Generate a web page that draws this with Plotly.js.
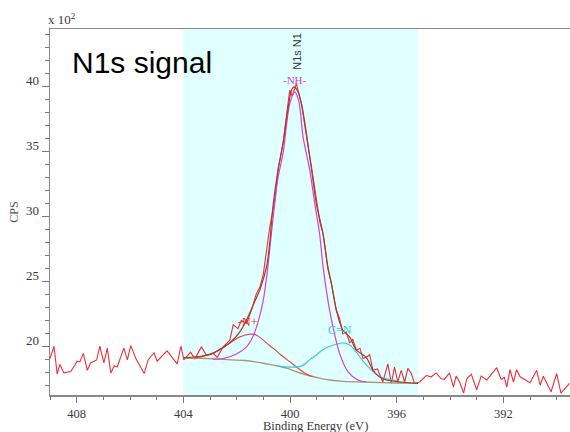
<!DOCTYPE html>
<html>
<head>
<meta charset="utf-8">
<script src="https://cdn.plot.ly/plotly-3.0.1.min.js"></script>
<style>html,body{margin:0;padding:0;background:#fff;}#chart{width:570px;height:432px;}</style>
</head>
<body>
<div id="chart"></div>
<script>
// Raw N1s spectrum (binding energy in eV, counts in units of 10^2 CPS)
const rawEnergy = [409.00,408.85,408.73,408.63,408.48,408.22,407.98,407.88,407.75,407.60,407.48,407.25,407.13,406.98,406.85,406.72,406.59,406.48,406.23,406.10,405.97,405.78,405.47,405.32,405.10,404.98,404.61,404.23,404.09,403.98,403.73,403.57,403.32,403.13,402.88,402.73,402.51,402.26,402.13,401.95,401.82,401.63,401.45,401.26,401.13,401.00,400.88,400.76,400.57,400.45,400.26,400.12,400.01,399.92,399.76,399.57,399.45,399.33,399.19,399.01,398.88,398.76,398.58,398.45,398.26,398.14,398.02,397.89,397.76,397.65,397.51,397.38,397.26,397.14,397.01,396.89,396.72,396.52,396.33,396.20,396.08,395.96,395.83,395.70,395.58,395.45,395.33,395.14,394.89,394.70,394.52,394.33,394.21,394.02,393.87,393.77,393.64,393.49,393.37,393.20,393.00,392.83,392.62,392.25,392.08,391.96,391.87,391.75,391.62,391.50,391.37,391.25,391.12,391.00,390.75,390.62,390.50,390.37,390.21,390.00,389.84,389.52];
const rawCPS = [19.1,20.05,17.9,18.65,18.0,18.1,18.9,18.85,19.5,18.2,18.77,19.0,20.05,18.77,19.9,18.0,18.55,18.45,19.9,19.0,20.1,19.1,17.95,19.0,19.55,18.9,19.7,18.7,20.05,19.0,19.6,19.1,20.0,19.35,19.5,19.2,20.0,20.5,21.7,21.4,22.05,21.8,22.8,24.1,24.6,25.6,27.4,29.2,31.3,33.6,35.7,38.0,39.75,39.3,40.25,38.7,37.0,35.5,33.8,31.2,29.6,28.7,26.0,24.9,22.8,22.2,21.0,21.15,20.3,20.6,19.75,19.9,19.1,19.2,19.4,18.2,18.3,17.3,18.7,17.2,18.45,17.3,18.2,17.3,18.35,17.95,17.2,17.3,17.8,17.7,18.0,17.55,17.5,18.0,16.9,17.75,17.3,16.45,17.55,17.9,16.7,17.75,17.45,18.4,17.5,17.65,16.9,18.25,17.3,18.25,17.7,17.55,17.4,17.25,18.2,17.05,17.75,17.25,16.55,17.95,16.45,17.2];

// Fit envelope
const envEnergy = [404.0,403.76,403.3,402.9,402.6,402.26,401.88,401.51,401.3,401.13,400.88,400.76,400.64,400.45,400.26,400.1,399.95,399.85,399.72,399.57,399.45,399.33,399.17,399.01,398.88,398.76,398.58,398.45,398.26,398.02,397.76,397.51,397.14,396.89,396.65,396.39,395.89,395.2];
const envCPS = [19.15,19.2,19.3,19.5,19.85,20.3,21.15,22.6,23.6,24.4,26.15,28.0,30.8,33.6,35.65,38.0,39.7,40.0,39.7,38.7,37.3,35.65,33.3,31.0,29.8,28.7,26.15,24.9,22.8,21.3,20.75,19.75,19.2,18.2,17.7,17.45,17.3,17.2];

// -NH- component
const nhEnergy = [402.9,402.51,402.01,401.63,401.39,401.2,401.01,400.88,400.76,400.64,400.45,400.26,400.01,399.82,399.67,399.51,399.26,399.07,398.89,398.76,398.58,398.39,398.14,397.83,397.45,397.14];
const nhCPS = [19.05,19.1,19.45,20.0,20.8,21.9,23.5,25.3,27.5,29.8,33.0,34.9,38.7,39.6,38.9,36.15,33.6,31.0,28.7,26.15,23.6,21.55,19.5,18.1,17.45,17.3];

// -N+ component
const npEnergy = [403.6,403.2,402.8,402.3,401.9,401.5,401.25,400.85,400.6,400.35,400.0,399.75,399.45,399.15];
const npCPS = [19.15,19.3,19.6,20.25,20.75,20.98,20.9,20.25,19.85,19.4,18.85,18.45,18.0,17.7];

// C=N component
const cnEnergy = [400.4,400.0,399.76,399.5,399.26,399.0,398.76,398.5,398.26,398.02,397.76,397.51,397.3,397.01,396.75,396.52,396.14,395.89,395.5];
const cnCPS = [18.5,18.45,18.45,18.6,19.0,19.4,19.8,20.05,20.2,20.3,20.15,19.6,19.0,18.35,17.9,17.6,17.45,17.3,17.25];

// Background
const bgEnergy = [404.0,403.4,402.8,402.2,401.7,401.3,400.9,400.5,400.1,399.7,399.3,398.9,398.5,398.0,397.0,396.0,395.2];
const bgCPS = [19.15,19.13,19.08,19.0,18.95,18.85,18.7,18.55,18.35,18.05,17.8,17.6,17.45,17.35,17.28,17.22,17.2];

// Fitting region and labels
const regionStart = 404.0, regionEnd = 395.2;
const xTicks = [408,404,400,396,392];
const yTicks = [20,25,30,35,40];

const fitLine = (w, c) => ({color: c, width: w, shape: 'spline', smoothing: 0.8});
const traces = [
  {x: rawEnergy, y: rawCPS, mode: 'lines', line: {color: '#e8303a', width: 1.1}, name: 'raw'},
  {x: bgEnergy, y: bgCPS, mode: 'lines', line: fitLine(1.4, '#a89878'), name: 'bg'},
  {x: npEnergy, y: npCPS, mode: 'lines', line: fitLine(1.2, '#e04848'), name: '-N+'},
  {x: cnEnergy, y: cnCPS, mode: 'lines', line: fitLine(1.2, '#40c8d8'), name: 'C=N'},
  {x: nhEnergy, y: nhCPS, mode: 'lines', line: fitLine(1.2, '#d040e0'), name: '-NH-'},
  {x: envEnergy, y: envCPS, mode: 'lines', line: fitLine(1.2, '#a83a28'), name: 'envelope'}
];

const serif = 'Liberation Serif, Times New Roman, serif';
const layout = {
  width: 570, height: 432, autosize: false,
  margin: {l: 50, r: 0, t: 29, b: 37},
  paper_bgcolor: '#ffffff', plot_bgcolor: '#ffffff',
  showlegend: false,
  xaxis: {
    range: [409, 389.5], tickvals: xTicks, ticktext: xTicks.map(String),
    ticks: 'outside', ticklen: 6, tickwidth: 1, tickcolor: '#777',
    minor: {dtick: 1, tick0: 400, ticks: 'outside', ticklen: 3, tickcolor: '#777'},
    showgrid: false, zeroline: false, showline: true, linecolor: '#888', linewidth: 1.5, mirror: true,
    tickfont: {family: serif, size: 12.5, color: '#3a3a3a'}
  },
  yaxis: {
    range: [16.3, 44.45], tickvals: yTicks, ticktext: yTicks.map(String),
    ticks: 'outside', ticklen: 7, tickwidth: 1, tickcolor: '#777',
    minor: {dtick: 1, tick0: 20, ticks: 'outside', ticklen: 4, tickcolor: '#777'},
    showgrid: false, zeroline: false, showline: true, linecolor: '#888', linewidth: 1.5,
    tickfont: {family: serif, size: 13, color: '#3a3a3a'}, ticklabelshift: -6,
    title: {text: 'CPS', font: {family: serif, size: 12, color: '#555'}, standoff: 4}
  },
  shapes: [{type: 'rect', xref: 'x', yref: 'paper', x0: regionStart, x1: regionEnd, y0: 0, y1: 1,
            fillcolor: '#e0ffff', line: {width: 0}, layer: 'below'}],
  annotations: [
    {xref: 'paper', yref: 'paper', x: 0.51, y: -0.0847, xanchor: 'center', yanchor: 'middle', showarrow: false,
     text: 'Binding Energy (eV)', font: {family: serif, size: 12.5, color: '#3a3a3a'}},
    {xref: 'paper', yref: 'paper', x: 0.038, y: 0.9085, xanchor: 'left', yanchor: 'middle', showarrow: false,
     text: 'N1s signal', font: {family: 'Liberation Sans, Arial, sans-serif', size: 30, color: '#000'}},
    {xref: 'paper', yref: 'paper', x: -0.008, y: 1.027, xanchor: 'left', yanchor: 'middle', showarrow: false,
     text: 'x 10<sup>2</sup>', font: {family: serif, size: 13, color: '#3a3a3a'}},
    {xref: 'x', yref: 'y', x: 399.8, y: 40.5, showarrow: false, text: '-NH-',
     font: {family: serif, size: 11, color: '#d040d0'}},
    {xref: 'x', yref: 'y', x: 401.58, y: 21.9, showarrow: false, text: '-N+',
     font: {family: serif, size: 12, color: '#e03030'}},
    {xref: 'x', yref: 'y', x: 398.14, y: 21.3, showarrow: false, text: 'C=N',
     font: {family: serif, size: 12, color: '#30c8d8'}},
    {xref: 'x', yref: 'y', x: 399.75, y: 42.75, showarrow: false, text: 'N1s N1', textangle: -90,
     font: {family: 'Liberation Sans, Arial, sans-serif', size: 11, color: '#333'}}
  ]
};

Plotly.newPlot('chart', traces, layout, {staticPlot: true, displayModeBar: false});
</script>
</body>
</html>
